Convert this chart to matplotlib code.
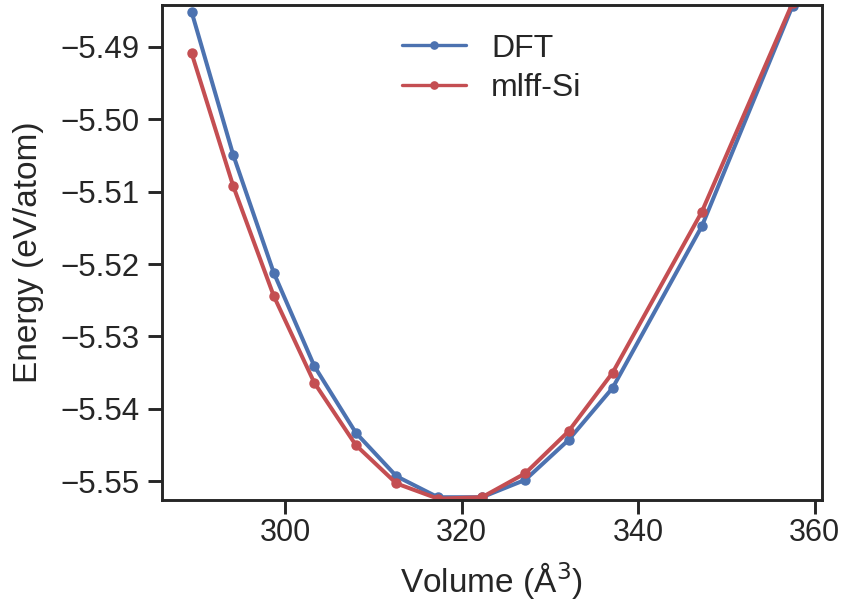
import matplotlib
matplotlib.use("Agg")
import matplotlib.pyplot as plt
import seaborn as sns

# volumes (A^3) and energies (eV/atom)
volume = [289.4, 294.1, 298.7, 303.3, 308.0, 312.6, 317.3, 322.3, 327.2, 332.1, 337.1, 347.2, 357.5]
e_dft = [-5.4852, -5.5049, -5.5212, -5.5341, -5.5433, -5.5493, -5.5522,
         -5.5522, -5.5498, -5.5443, -5.5371, -5.5148, -5.4843]
e_mlff = [-5.4909, -5.5092, -5.5244, -5.5364, -5.5450, -5.5503, -5.5524,
          -5.5522, -5.5489, -5.5431, -5.5350, -5.5128, -5.4839]


def main():
    sns.set_theme(style="ticks", palette="deep", color_codes=True)
    plt.rcParams['font.family'] = ['Liberation Sans', 'DejaVu Sans']
    plt.rcParams['axes.edgecolor'] = '#262626'
    plt.rcParams['axes.linewidth'] = 2.1
    plt.rcParams['xtick.major.width'] = 2.1
    plt.rcParams['ytick.major.width'] = 2.1
    plt.rcParams['xtick.major.size'] = 10
    plt.rcParams['ytick.major.size'] = 10

    fig = plt.figure(figsize=(8.42, 6.04), dpi=100)
    ax = fig.add_axes([0.192, 0.172, 0.784, 0.820])

    ax.plot(volume, e_dft, 'b-o', lw=2.9, ms=6.5, label='DFT')
    ax.plot(volume, e_mlff, 'r-o', lw=2.9, ms=6.5, label='mlff-Si')

    ax.set_xlim(286.0, 360.8)
    ax.set_ylim(-5.5526, -5.4842)
    ax.set_xticks([300, 320, 340, 360])
    ax.set_yticks([-5.55, -5.54, -5.53, -5.52, -5.51, -5.50, -5.49])
    ax.tick_params(axis='x', labelsize=22, colors='#262626', pad=3)
    ax.tick_params(axis='y', labelsize=22.5, colors='#262626', pad=6)
    ax.set_xlabel('Volume (Å$^3$)', fontsize=24, color='#262626', labelpad=9)
    ax.set_ylabel('Energy (eV/atom)', fontsize=24, color='#262626', labelpad=12)
    leg = ax.legend(loc='upper center', frameon=False, fontsize=23,
                    labelspacing=0.3, markerscale=0.8)
    for h in leg.legend_handles:
        h.set_linewidth(2.4)

    fig.savefig('out.png', dpi=100)


if __name__ == "__main__":
    main()
